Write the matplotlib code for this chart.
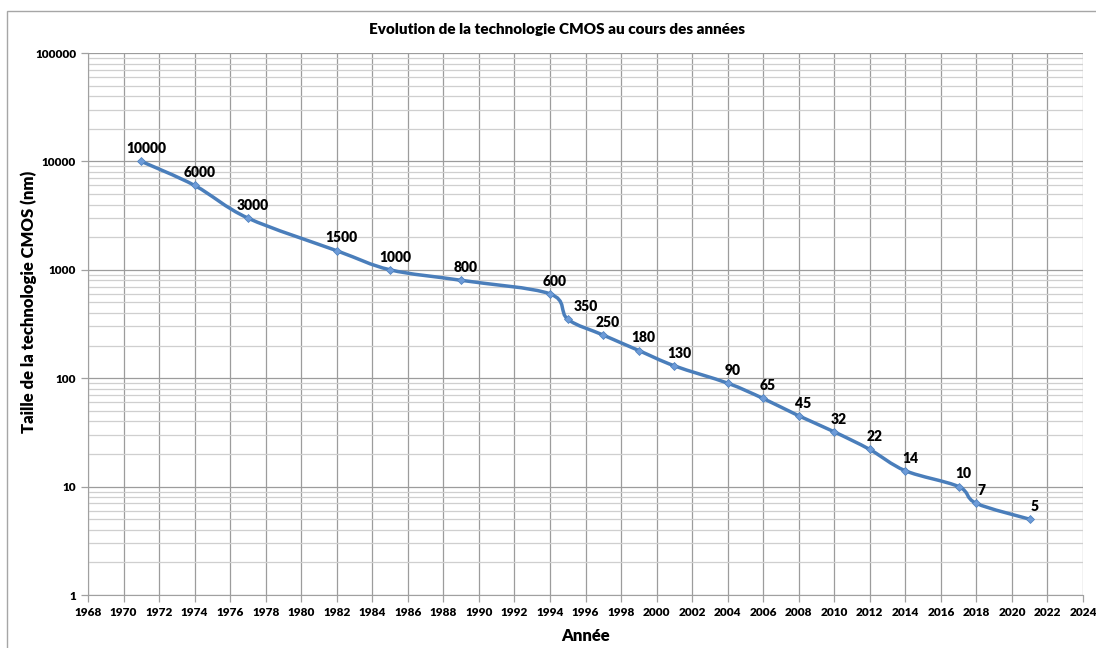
import numpy as np
import matplotlib
matplotlib.use('Agg')
from matplotlib import pyplot as plt
from matplotlib.path import Path
from matplotlib.patches import PathPatch, Rectangle
from matplotlib.ticker import LogLocator, FixedLocator, NullFormatter

years = [1971, 1974, 1977, 1982, 1985, 1989, 1994, 1995, 1997, 1999,
         2001, 2004, 2006, 2008, 2010, 2012, 2014, 2017, 2018, 2021]
sizes = [10000, 6000, 3000, 1500, 1000, 800, 600, 350, 250, 180,
         130, 90, 65, 45, 32, 22, 14, 10, 7, 5]
labels = [str(s) for s in sizes]
x_ticks = list(range(1968, 2025, 2))

plt.rcParams['font.family'] = ['Lato', 'DejaVu Sans']
plt.rcParams['font.weight'] = 'bold'

fig = plt.figure(figsize=(10.96, 6.48), dpi=100)
ax = fig.add_axes([88 / 1096, 53 / 648, (1083 - 88) / 1096, (595 - 53) / 648])
ax.set_facecolor('white')
fig.patch.set_facecolor('white')

# outer chart border
fig.add_artist(Rectangle((7 / 1096, -0.05), 1.1, (648 - 11) / 648 + 0.05,
                         transform=fig.transFigure, fill=False,
                         edgecolor='#a6a6a6', linewidth=1.0))

ax.set_yscale('log')
ax.set_xlim(1968, 2024)
ax.set_ylim(1, 100000)

# smoothed line (Bezier segments, Excel-like smoothing in log space)
xs = np.array(years, dtype=float)
ly = np.log10(np.array(sizes, dtype=float))
verts = [(xs[0], sizes[0])]
codes = [Path.MOVETO]
n = len(xs)
for i in range(n - 1):
    p0 = np.array([xs[max(i - 1, 0)], ly[max(i - 1, 0)]])
    p1 = np.array([xs[i], ly[i]])
    p2 = np.array([xs[i + 1], ly[i + 1]])
    p3 = np.array([xs[min(i + 2, n - 1)], ly[min(i + 2, n - 1)]])
    c1 = p1 + (p2 - p0) / 6.0
    c2 = p2 - (p3 - p1) / 6.0
    for c in (c1, c2, p2):
        verts.append((c[0], 10 ** c[1]))
    codes += [Path.CURVE4] * 3
ax.add_patch(PathPatch(Path(verts, codes), facecolor='none',
                       edgecolor='#4a7ebb', linewidth=2.5, zorder=3))
ax.plot(years, sizes, linestyle='none', marker='D', markersize=4,
        color='#6d9bd8', markeredgecolor='#4a7ebb', markeredgewidth=0.5, zorder=4)

for x, y, t in zip(years, sizes, labels):
    dx = 13 if t == '350' else 3.5
    ax.annotate(t, (x, y), xytext=(dx, 4.5), textcoords='offset points',
                fontsize=10, fontweight='heavy', ha='center', va='bottom', zorder=5)

# gridlines
ax.xaxis.set_major_locator(FixedLocator(x_ticks))
ax.yaxis.set_minor_locator(LogLocator(base=10, subs=np.arange(2, 10), numticks=20))
ax.yaxis.set_minor_formatter(NullFormatter())
ax.set_yticks([1, 10, 100, 1000, 10000, 100000])
ax.set_yticklabels(['1', '10', '100', '1000', '10000', '100000'])
ax.grid(True, which='major', axis='both', color='#9c9c9c', linewidth=0.9)
ax.grid(True, which='minor', axis='y', color='#cfcfcf', linewidth=0.9)
ax.set_axisbelow(True)

for s in ['top', 'right']:
    ax.spines[s].set_visible(False)
for s in ['left', 'bottom']:
    ax.spines[s].set_color('#a0a0a0')
ax.tick_params(axis='both', which='major', labelsize=8.5, colors='#a0a0a0',
               labelcolor='black', length=5, width=0.9)
ax.tick_params(axis='y', which='minor', length=0)
for lab in ax.get_xticklabels() + ax.get_yticklabels():
    lab.set_fontweight('heavy')

fig.text(557 / 1096, 1 - 30 / 648, 'Evolution de la technologie CMOS au cours des années',
         fontsize=11, fontweight='heavy', ha='center', va='center')
ax.set_xlabel('Année', fontsize=12, fontweight='heavy', labelpad=7)
ax.set_ylabel('Taille de la technologie CMOS (nm)', fontsize=12, fontweight='heavy')
ax.yaxis.set_label_coords(-0.051, 0.54)

fig.savefig('out.png', dpi=100)
